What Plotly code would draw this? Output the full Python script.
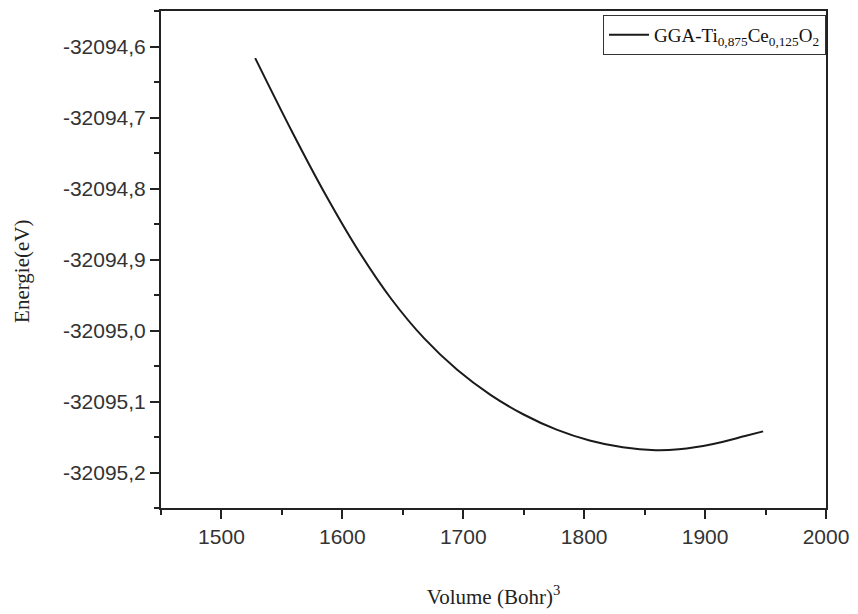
import plotly.graph_objects as go

# Data
volume = [1527.9, 1558.5, 1585.9, 1613.2, 1640.5, 1667.9, 1695.2, 1722.5, 1749.9,
          1777.2, 1804.5, 1831.9, 1859.2, 1878.3, 1905.7, 1933.0, 1948.0]
energy = [-32094.6164, -32094.7204, -32094.8081, -32094.8873, -32094.9556, -32095.0115,
          -32095.0557, -32095.0906, -32095.1183, -32095.1396, -32095.1549, -32095.1645,
          -32095.1686, -32095.1673, -32095.1602, -32095.1487, -32095.1421]

series_name = "GGA-Ti<sub>0,875</sub>Ce<sub>0,125</sub>O<sub>2</sub>"

x_tick_vals = [1500, 1600, 1700, 1800, 1900, 2000]
x_tick_text = ["1500", "1600", "1700", "1800", "1900", "2000"]
y_tick_vals = [-32094.6, -32094.7, -32094.8, -32094.9, -32095.0, -32095.1, -32095.2]
y_tick_text = ["-32094,6", "-32094,7", "-32094,8", "-32094,9", "-32095,0", "-32095,1", "-32095,2"]

x_title = "Volume (Bohr)<sup>3</sup>"
y_title = "Energie(eV)"

AX = "#222222"
TICKFONT = dict(family="Arial, 'Liberation Sans', sans-serif", size=21, color="#333333")
SERIF = "'Times New Roman', 'Liberation Serif', serif"

fig = go.Figure()
fig.add_trace(go.Scatter(
    x=volume, y=energy, mode="lines", name=series_name,
    line=dict(color="#1a1a1a", width=2, shape="spline", smoothing=1.0),
    showlegend=True,
))

fig.update_layout(
    width=858, height=614,
    margin=dict(l=161, r=27, t=9, b=106),
    paper_bgcolor="white", plot_bgcolor="white",
    showlegend=True,
    legend=dict(
        x=1.0, xanchor="right", y=0.992, yanchor="top",
        bgcolor="white", bordercolor="#333333", borderwidth=1,
        font=dict(family=SERIF, size=19, color="#111111"),
        tracegroupgap=0, itemwidth=40,
    ),
    annotations=[dict(
        text=y_title, textangle=-90, xref="paper", yref="paper",
        x=-0.209, y=0.475, xanchor="center", yanchor="middle", showarrow=False,
        font=dict(family=SERIF, size=21, color="#222222"),
    )],
)

fig.update_xaxes(
    range=[1450, 2000],
    tickmode="array", tickvals=x_tick_vals, ticktext=x_tick_text,
    ticks="outside", ticklen=9, tickwidth=2, tickcolor=AX,
    minor=dict(dtick=50, tick0=1450, ticks="outside", ticklen=5, tickwidth=2, tickcolor=AX, showgrid=False),
    showline=True, linecolor=AX, linewidth=2, mirror=True,
    showgrid=False, zeroline=False,
    tickfont=TICKFONT,
    title=dict(text=x_title, font=dict(family=SERIF, size=21, color="#222222"), standoff=42),
)
fig.update_yaxes(
    range=[-32095.25, -32094.55],
    tickmode="array", tickvals=y_tick_vals, ticktext=y_tick_text,
    ticks="outside", ticklen=9, tickwidth=2, tickcolor=AX,
    minor=dict(dtick=0.05, tick0=-32095.25, ticks="outside", ticklen=5, tickwidth=2, tickcolor=AX, showgrid=False),
    showline=True, linecolor=AX, linewidth=2, mirror=True,
    showgrid=False, zeroline=False,
    tickfont=TICKFONT,
)

fig.write_html("out.html")
